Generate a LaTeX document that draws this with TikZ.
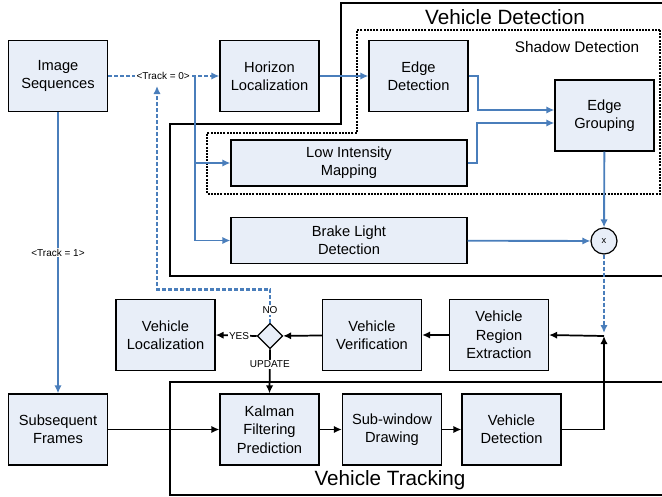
\documentclass[tikz,border=0pt]{standalone}
\usepackage{fontspec}
\setmainfont{Liberation Sans}
\usetikzlibrary{arrows.meta,calc,shapes.geometric}
\definecolor{boxfill}{HTML}{E8EEF8}
\definecolor{bl}{HTML}{4A7EBB}

\begin{document}
\begin{tikzpicture}[x=0.75pt, y=-0.75pt,
    blk/.style={draw, line width=0.9pt, fill=boxfill, align=center, inner sep=1pt,
      minimum width=74.25pt, minimum height=53.25pt, font=\fontsize{11}{13.8}\selectfont},
    wide/.style={blk, minimum width=177pt, minimum height=34.5pt},
    lbl/.style={font=\fontsize{7.5}{9}\selectfont, text=black, fill=white, inner sep=0.8pt},
    bline/.style={bl, line width=1.4pt},
    barr/.style={bline, -{Latex[length=6pt,width=5.5pt]}},
    bdot/.style={bline, line width=2.1pt, dash pattern=on 3pt off 1.5pt},
    karr/.style={line width=1.3pt, -{Latex[length=6pt,width=5.5pt]}}]
  \useasboundingbox (0,0) rectangle (662,497);
  % region outlines
  \draw[line width=0.9pt] (662,3) -- (341,3) -- (341,124) -- (170,124) -- (170,276) -- (662,276);
  \draw[line width=2.2pt, dash pattern=on 1.5pt off 0.9pt]
    (660,30) -- (357,30) -- (357,133) -- (207,133) -- (207,194) -- (660,194) -- cycle;
  \draw[line width=0.9pt] (662,382) -- (170,382) -- (170,495) -- (662,495);
  \node[font=\fontsize{15.5}{18}\selectfont] (ttldet) at (505,17) {Vehicle Detection};
  \node[font=\fontsize{11.5}{13.5}\selectfont] (ttlshd) at (577,47) {Shadow Detection};
  \node[font=\fontsize{15.5}{18}\selectfont] (ttltrk) at (390,480) {Vehicle Tracking};

  % blocks
  \node[blk] (imgseq) at (58,76) {Image\\Sequences};
  \node[blk] (horizon) at (269.5,76) {Horizon\\Localization};
  \node[blk] (edgedet) at (418.5,76) {Edge\\Detection};
  \node[blk] (edgegrp) at (604.5,115.5) {Edge\\Grouping};
  \node[wide] (lowint) at (349,163) {Low Intensity\\Mapping};
  \node[wide] (brake) at (349,240.5) {Brake Light\\Detection};
  \node[circle, draw, line width=0.9pt, fill=boxfill, minimum size=19.5pt, inner sep=0pt,
    font=\fontsize{7}{8}\selectfont] (mult) at (604,241) {x};
  \node[blk] (vloc) at (165.5,335) {Vehicle\\Localization};
  \node[diamond, draw, line width=0.9pt, fill=boxfill, minimum width=19pt, minimum height=19pt,
    inner sep=0pt] (dec) at (270,336) {};
  \node[blk] (vver) at (372,335) {Vehicle\\Verification};
  \node[blk] (vregion) at (499,335) {Vehicle\\Region\\Extraction};
  \node[blk] (subseq) at (58,429.5) {Subsequent\\Frames};
  \node[blk] (kalman) at (269.5,429.5) {Kalman\\Filtering\\Prediction};
  \node[blk] (subwin) at (392,429.5) {Sub-window\\Drawing};
  \node[blk] (vdet) at (511.5,429.5) {Vehicle\\Detection};

  \coordinate (br) at (195,76);
  \coordinate (tk0) at (157,86);
  \coordinate (jn) at (604,336);

  % detection branch
  \draw[bdot, -{Latex[length=6pt,width=5.5pt]}] (imgseq.east) -- node[lbl, pos=0.495] (t0) {<Track = 0>} (horizon.west);
  \draw[barr] (br) |- (lowint.west);
  \draw[barr] (br) |- (brake.west);
  \draw[barr] (horizon) -- (edgedet);
  \draw[barr] (edgedet.east) -- ++(9,0) |- ($(edgegrp.west)+(0,-5.5)$);
  \draw[barr] (lowint.east) -- ++(9,0) |- ($(edgegrp.west)+(0,7.5)$);
  \draw[barr] (edgegrp) -- (mult);
  \draw[barr] (brake) -- (mult);
  \draw[bdot, -{Latex[length=6pt,width=5.5pt]}] (mult.south) -- ($(jn)+(0,-3)$);

  % tracking branch
  \draw[barr] (imgseq.south) -- node[lbl] (t1) {<Track = 1>} (subseq.north);
  \draw[karr] (subseq) -- (kalman);
  \draw[karr] (kalman) -- (subwin);
  \draw[karr] (subwin) -- (vdet);
  \draw[karr] (vdet.east) -| (jn);
  \draw[karr] (jn) -- (vregion.east);
  \draw[karr] (vregion) -- (vver);
  \draw[karr] (vver) -- (dec);
  \draw[karr] (dec.west) -- node[lbl, pos=0.43] (yes) {YES} (vloc.east);
  \draw[karr] (dec.south) -- node[lbl, pos=0.34] (upd) {UPDATE} (kalman.north);
  \draw[bdot, -{Latex[length=6pt,width=5.5pt]}] (dec.north) -- node[lbl, pos=0.37] (no) {NO} ++(0,-33.5) -| (tk0);
\end{tikzpicture}
\end{document}
